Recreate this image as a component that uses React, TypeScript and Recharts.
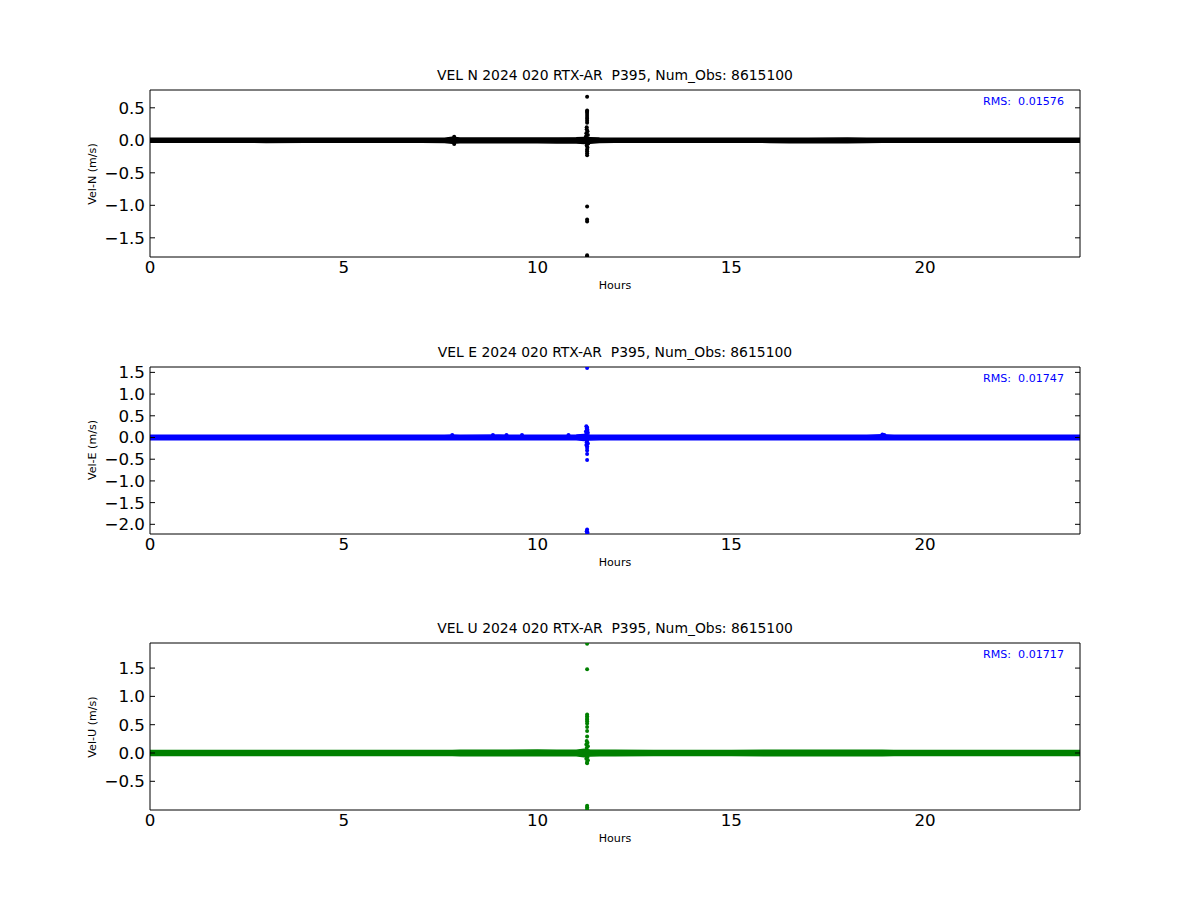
import React from 'react';
import { ComposedChart, Area, Scatter, XAxis, YAxis } from 'recharts';

// sample hours for the dense noise band (envelope)
const bandHours = [
  0, 1, 2, 3, 4, 5, 6, 7, 7.6, 7.8, 8, 9, 10, 10.5, 11, 11.2, 11.35, 11.6, 12, 13, 14, 15, 16, 16.5, 17,
  18, 18.5, 18.9, 19.2, 20, 21, 22, 23, 24,
];

const velNLow = [
  -0.03, -0.03, -0.03, -0.032, -0.03, -0.03, -0.03, -0.03, -0.033, -0.045, -0.038, -0.038, -0.038, -0.04,
  -0.04, -0.05, -0.045, -0.033, -0.03, -0.03, -0.03, -0.03, -0.032, -0.036, -0.038, -0.036, -0.033, -0.03,
  -0.03, -0.03, -0.03, -0.03, -0.03, -0.03,
];
const velNHigh = [
  0.032, 0.03, 0.03, 0.032, 0.03, 0.03, 0.03, 0.03, 0.033, 0.048, 0.034, 0.034, 0.034, 0.036, 0.038, 0.045,
  0.04, 0.034, 0.032, 0.03, 0.03, 0.03, 0.03, 0.032, 0.032, 0.034, 0.03, 0.03, 0.03, 0.03, 0.03, 0.032,
  0.03, 0.032,
];

const velELow = [
  -0.05, -0.05, -0.05, -0.05, -0.05, -0.05, -0.05, -0.05, -0.05, -0.05, -0.05, -0.05, -0.05, -0.05,
  -0.05, -0.07, -0.06, -0.05, -0.05, -0.05, -0.05, -0.05, -0.05, -0.05, -0.05, -0.05, -0.05, -0.05,
  -0.05, -0.05, -0.05, -0.05, -0.05, -0.05,
];
const velEHigh = [
  0.05, 0.05, 0.05, 0.05, 0.05, 0.05, 0.05, 0.05, 0.05, 0.06, 0.05, 0.055, 0.05, 0.05, 0.055, 0.07, 0.06,
  0.05, 0.05, 0.05, 0.05, 0.05, 0.05, 0.05, 0.05, 0.05, 0.05, 0.065, 0.05, 0.05, 0.05, 0.05, 0.05, 0.05,
];

const velULow = [
  -0.045, -0.045, -0.045, -0.045, -0.045, -0.045, -0.045, -0.045, -0.045, -0.045, -0.048, -0.05, -0.05,
  -0.05, -0.05, -0.065, -0.055, -0.048, -0.048, -0.045, -0.045, -0.045, -0.048, -0.05, -0.048, -0.05,
  -0.048, -0.048, -0.045, -0.045, -0.045, -0.045, -0.045, -0.045,
];
const velUHigh = [
  0.045, 0.045, 0.045, 0.045, 0.045, 0.045, 0.045, 0.045, 0.045, 0.045, 0.048, 0.05, 0.052, 0.05, 0.05,
  0.065, 0.055, 0.048, 0.05, 0.045, 0.045, 0.045, 0.048, 0.05, 0.048, 0.05, 0.048, 0.048, 0.045, 0.045,
  0.045, 0.045, 0.045, 0.045,
];

// isolated outliers: [hour, value]
const velNSpikes = [
  [11.28, 0.67], [11.28, 0.46], [11.28, 0.44], [11.28, 0.42], [11.28, 0.39], [11.28, 0.36], [11.28, 0.33],
  [11.28, 0.3], [11.28, 0.27], [11.27, 0.2], [11.27, 0.17], [11.29, 0.14], [11.26, 0.11], [11.3, 0.08],
  [11.25, 0.06], [11.31, -0.05], [11.27, -0.08], [11.29, -0.11], [11.28, -0.14], [11.28, -0.17],
  [11.28, -0.2], [11.28, -0.23], [11.28, -1.02], [11.28, -1.22], [11.28, -1.25], [11.28, -1.77],
  [11.28, -1.79], [7.85, 0.055], [7.85, -0.055],
];
const velESpikes = [
  [11.28, 1.6], [11.26, 0.26], [11.28, 0.23], [11.27, 0.2], [11.29, 0.17], [11.25, 0.14], [11.3, 0.11],
  [11.26, 0.08], [11.28, -0.08], [11.27, -0.11], [11.3, -0.14], [11.26, -0.17], [11.28, -0.2],
  [11.28, -0.24], [11.28, -0.3], [11.28, -0.38], [11.28, -0.52], [11.28, -2.12], [11.27, -2.16],
  [11.29, -2.19], [11.28, -2.22], [7.8, 0.06], [8.85, 0.06], [9.2, 0.06], [9.6, 0.06], [10.8, 0.06],
  [18.9, 0.07], [18.95, 0.06],
];
const velUSpikes = [
  [11.28, 1.93], [11.28, 1.48], [11.28, 0.68], [11.28, 0.65], [11.28, 0.62], [11.28, 0.59], [11.28, 0.56],
  [11.28, 0.52], [11.28, 0.46], [11.28, 0.39], [11.28, 0.29], [11.27, 0.21], [11.29, 0.18], [11.26, 0.15],
  [11.3, 0.12], [11.27, 0.09], [11.29, -0.07], [11.26, -0.1], [11.3, -0.13], [11.28, -0.16],
  [11.28, -0.18], [11.28, -0.93], [11.28, -0.96], [11.28, -0.99],
];

const hourTicks = [0, 5, 10, 15, 20];
const velNTicks = [0.5, 0.0, -0.5, -1.0, -1.5];
const velETicks = [1.5, 1.0, 0.5, 0.0, -0.5, -1.0, -1.5, -2.0];
const velUTicks = [1.5, 1.0, 0.5, 0.0, -0.5];

const FONT = '"DejaVu Sans", sans-serif';

const fmtY = (v: number) => (v < 0 ? '\u2212' : '') + Math.abs(v).toFixed(1);
const blank = () => '';

interface PanelProps {
  top: number;
  title: string;
  yLabel: string;
  rms: string;
  color: string;
  domain: [number, number];
  yTicks: number[];
  low: number[];
  high: number[];
  spikes: number[][];
}

function Panel({ top, title, yLabel, rms, color, domain, yTicks, low, high, spikes }: PanelProps) {
  const band = bandHours.map((h, i) => ({ x: h, band: [low[i], high[i]] }));
  const points = spikes.map(([x, y]) => ({ x, y }));
  const dot = (p: any) => <circle cx={p.cx} cy={p.cy} r={2} fill={color} />;
  const tickStyle = { fill: '#000', fontSize: 16.7, fontFamily: FONT };

  return (
    <div style={{ position: 'absolute', left: 0, top: top - 50, width: 1200, height: 300 }}>
      <ComposedChart width={1200} height={300} margin={{ top: 50, right: 120, bottom: 53, left: 100 }}>
        <XAxis
          xAxisId="b"
          dataKey="x"
          type="number"
          domain={[0, 24]}
          allowDataOverflow
          ticks={hourTicks}
          interval={0}
          height={30}
          tickLine={false}
          tickSize={0}
          tickMargin={4}
          tick={tickStyle}
          axisLine={{ stroke: '#000', strokeWidth: 1 }}
        />
        <XAxis xAxisId="bm" type="number" domain={[0, 24]} allowDataOverflow ticks={hourTicks} interval={0} mirror
          axisLine={false} tickSize={5} tickFormatter={blank} tickLine={{ stroke: '#000' }} />
        <XAxis xAxisId="t" orientation="top" type="number" domain={[0, 24]} allowDataOverflow ticks={hourTicks}
          interval={0} mirror tickSize={5} tickFormatter={blank} tickLine={{ stroke: '#000' }}
          axisLine={{ stroke: '#000', strokeWidth: 1 }} />
        <YAxis
          yAxisId="l"
          dataKey="y"
          type="number"
          domain={domain}
          allowDataOverflow
          ticks={yTicks}
          interval={0}
          width={50}
          tickLine={false}
          tickSize={0}
          tickMargin={5}
          tick={tickStyle}
          tickFormatter={fmtY}
          axisLine={{ stroke: '#000', strokeWidth: 1 }}
        />
        <YAxis yAxisId="lm" type="number" domain={domain} allowDataOverflow ticks={yTicks} interval={0} mirror
          axisLine={false} tickSize={5} tickFormatter={blank} tickLine={{ stroke: '#000' }} />
        <YAxis yAxisId="r" orientation="right" type="number" domain={domain} allowDataOverflow ticks={yTicks}
          interval={0} mirror tickSize={5} tickFormatter={blank} tickLine={{ stroke: '#000' }}
          axisLine={{ stroke: '#000', strokeWidth: 1 }} />
        <Area
          xAxisId="b"
          yAxisId="l"
          data={band}
          dataKey="band"
          type="linear"
          stroke={color}
          strokeWidth={1.5}
          fill={color}
          fillOpacity={1}
          dot={false}
          activeDot={false}
          isAnimationActive={false}
        />
        <Scatter xAxisId="b" yAxisId="l" data={points} dataKey="y" shape={dot} isAnimationActive={false} />
      </ComposedChart>
      <div style={{ position: 'absolute', left: 150, width: 930, top: 28, textAlign: 'center', fontFamily: FONT,
        fontSize: 13.9, lineHeight: '14px', whiteSpace: 'pre', color: '#000' }}>{title}</div>
      <div style={{ position: 'absolute', left: 880, width: 184, top: 56, textAlign: 'right', fontFamily: FONT,
        fontSize: 11.1, lineHeight: '12px', whiteSpace: 'pre', color: '#0000ff' }}>{rms}</div>
      <div style={{ position: 'absolute', left: 150, width: 930, top: 240, textAlign: 'center', fontFamily: FONT,
        fontSize: 11.1, lineHeight: '12px', color: '#000' }}>Hours</div>
      <div style={{ position: 'absolute', left: 33, width: 120, top: 127.5, height: 12, textAlign: 'center',
        fontFamily: FONT, fontSize: 11.1, lineHeight: '12px', color: '#000', transform: 'rotate(-90deg)' }}>{yLabel}</div>
    </div>
  );
}

export default function App() {
  return (
    <div style={{ position: 'absolute', left: 0, top: 0, width: 1200, height: 900, background: '#fff' }}>
      <Panel top={90} title="VEL N 2024 020 RTX-AR  P395, Num_Obs: 8615100" yLabel="Vel-N (m/s)"
        rms="RMS:  0.01576" color="#000000" domain={[-1.795, 0.774]} yTicks={velNTicks}
        low={velNLow} high={velNHigh} spikes={velNSpikes} />
      <Panel top={366.5} title="VEL E 2024 020 RTX-AR  P395, Num_Obs: 8615100" yLabel="Vel-E (m/s)"
        rms="RMS:  0.01747" color="#0000ff" domain={[-2.223, 1.624]} yTicks={velETicks}
        low={velELow} high={velEHigh} spikes={velESpikes} />
      <Panel top={643} title="VEL U 2024 020 RTX-AR  P395, Num_Obs: 8615100" yLabel="Vel-U (m/s)"
        rms="RMS:  0.01717" color="#008000" domain={[-1.007, 1.943]} yTicks={velUTicks}
        low={velULow} high={velUHigh} spikes={velUSpikes} />
    </div>
  );
}
